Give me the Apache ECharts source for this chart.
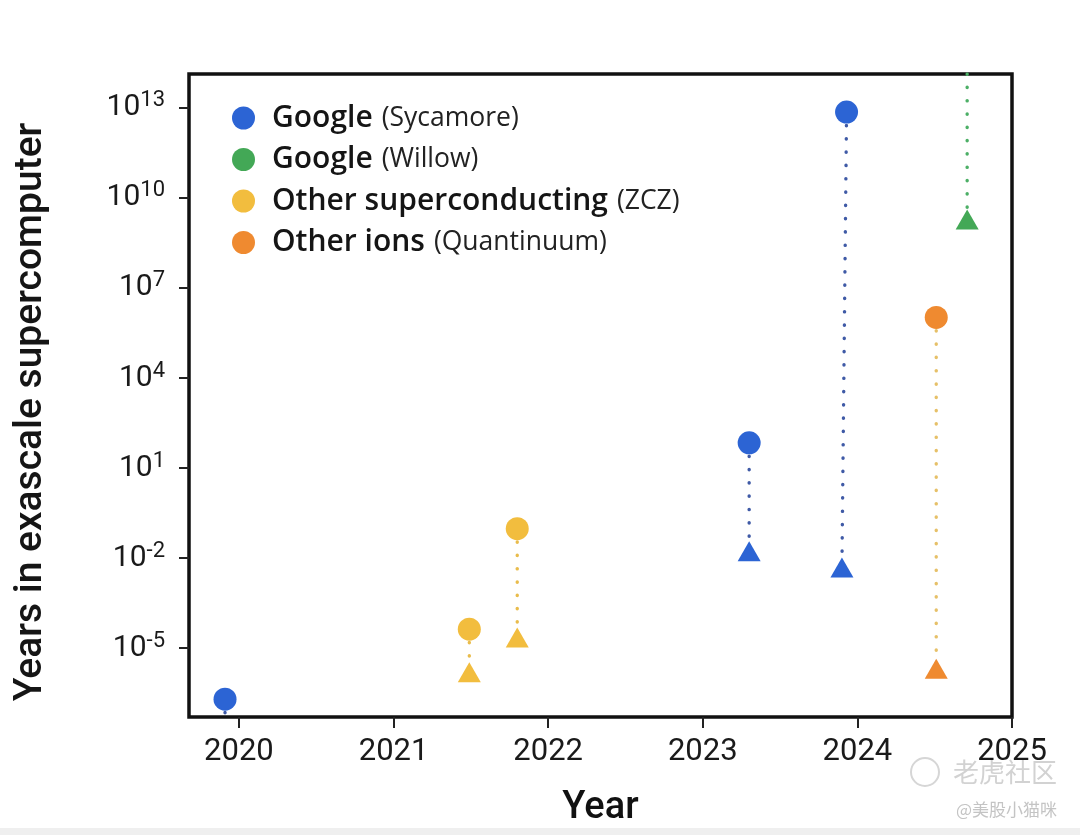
<!DOCTYPE html>
<html>
<head>
<meta charset="utf-8">
<script src="https://cdn.jsdelivr.net/npm/echarts@6/dist/echarts.min.js"></script>
<style>
html,body{margin:0;padding:0;background:#fff;}
#chart{width:1080px;height:835px;}
</style>
</head>
<body>
<div id="chart"></div>
<script>
// ---- Data (x = year, y = log10(years in exascale supercomputer)) ----
const seriesNames = ['Google (Sycamore)', 'Google (Willow)', 'Other superconducting (ZCZ)', 'Other ions (Quantinuum)'];
const seriesColors = ['#2c64d4', '#43a856', '#f2bd3e', '#ef8a30'];
const lineColors = ['#3f5aa6', '#4caf66', '#e9bc4c', '#e6c068'];

// circles (upper marker) and triangles (lower marker); null = outside the plotted range
const sycCircleYear = [2019.91, 2023.30, 2023.93];
const sycCircleLog  = [-6.70, 1.84, 12.86];
const sycTriYear    = [2019.91, 2023.30, 2023.90];
const sycTriLog     = [null, -1.77, -2.31];

const wilCircleYear = [2024.71];
const wilCircleLog  = [null];
const wilTriYear    = [2024.71];
const wilTriLog     = [9.28];

const zczCircleYear = [2021.49, 2021.80];
const zczCircleLog  = [-4.37, -1.02];
const zczTriYear    = [2021.49, 2021.80];
const zczTriLog     = [-5.80, -4.65];

const quaCircleYear = [2024.51];
const quaCircleLog  = [6.02];
const quaTriYear    = [2024.51];
const quaTriLog     = [-5.69];

const xTicks = [2020, 2021, 2022, 2023, 2024, 2025];
const yTickExponents = [-5, -2, 1, 4, 7, 10, 13];

const X_MIN = 2019.677, X_MAX = 2025.0;
const Y_MIN = -7.295, Y_MAX = 14.13;

const groups = [
  [sycCircleYear, sycCircleLog, sycTriYear, sycTriLog],
  [wilCircleYear, wilCircleLog, wilTriYear, wilTriLog],
  [zczCircleYear, zczCircleLog, zczTriYear, zczTriLog],
  [quaCircleYear, quaCircleLog, quaTriYear, quaTriLog]
];

const FONT = 'Roboto, "Open Sans", sans-serif';
const LFONT = '"Open Sans", Roboto, sans-serif';
const series = [];

groups.forEach(function (g, gi) {
  const cy = g[0], cl = g[1], ty = g[2], tl = g[3];
  // dotted connectors
  for (let i = 0; i < cy.length; i++) {
    const top = cl[i] == null ? [ty[i], Y_MAX] : [cy[i], cl[i]];
    const bot = tl[i] == null ? [cy[i], Y_MIN] : [ty[i], tl[i]];
    series.push({
      type: 'line',
      name: 'link-' + gi + '-' + i,
      data: [top, bot],
      symbol: 'none',
      silent: true,
      z: 1,
      lineStyle: { color: lineColors[gi], width: 3.4, type: [0.3, 13], cap: 'round' }
    });
  }
  const pts = [];
  for (let i = 0; i < cy.length; i++) {
    if (cl[i] != null) pts.push({ value: [cy[i], cl[i]], symbol: 'circle', symbolSize: 23 });
    if (tl[i] != null) pts.push({ value: [ty[i], tl[i]], symbol: 'triangle', symbolSize: [23, 20] });
  }
  series.push({
    type: 'scatter',
    name: seriesNames[gi],
    data: pts,
    z: 3,
    itemStyle: { color: seriesColors[gi], opacity: 1 }
  });
});

const chart = echarts.init(document.getElementById('chart'), null, { renderer: 'canvas' });
chart.setOption({
  animation: false,
  backgroundColor: '#ffffff',
  grid: {
    left: 189, right: 68, top: 74, bottom: 118,
    show: true, borderColor: '#111111', borderWidth: 3.5, backgroundColor: 'transparent'
  },
  legend: {
    data: seriesNames,
    orient: 'vertical',
    left: 232, top: 103,
    padding: 0,
    icon: 'circle',
    itemWidth: 23, itemHeight: 23,
    itemGap: 11.5,
    selectedMode: false,
    formatter: function (name) {
      const k = name.indexOf(' (');
      return '{a|' + name.slice(0, k) + '}{b|' + name.slice(k + 1) + '}';
    },
    textStyle: {
      rich: {
        a: { fontFamily: LFONT, fontSize: 30, fontWeight: 600, color: '#151515', lineHeight: 29, padding: [0, 0, 0, 12] },
        b: { fontFamily: LFONT, fontSize: 26.5, fontWeight: 400, color: '#222222', lineHeight: 29, padding: [0, 0, 0, 9] }
      }
    }
  },
  xAxis: {
    type: 'value',
    min: X_MIN, max: X_MAX,
    name: 'Year',
    nameLocation: 'middle',
    nameGap: 72,
    nameTextStyle: { fontFamily: FONT, fontSize: 38, fontWeight: 500, color: '#111' },
    axisLine: { show: false, onZero: false },
    splitLine: { show: false },
    axisTick: { show: true, customValues: xTicks, length: 11, lineStyle: { color: '#222', width: 2 } },
    axisLabel: {
      customValues: xTicks,
      margin: 20,
      fontFamily: FONT, fontSize: 31, color: '#1a1a1a',
      formatter: function (v) { return String(v); }
    }
  },
  yAxis: {
    type: 'value',
    min: Y_MIN, max: Y_MAX,
    axisLine: { show: false, onZero: false },
    splitLine: { show: false },
    axisTick: { show: true, customValues: yTickExponents, length: 10, lineStyle: { color: '#222', width: 2 } },
    axisLabel: {
      customValues: yTickExponents,
      margin: 24,
      formatter: function (v) { return '{b|10}{s|' + v + '}'; },
      rich: {
        b: { fontFamily: FONT, fontSize: 30, color: '#1a1a1a', lineHeight: 36, verticalAlign: 'middle' },
        s: { fontFamily: FONT, fontSize: 22, color: '#1a1a1a', lineHeight: 20, verticalAlign: 'top' }
      }
    }
  },
  graphic: [
    {
      type: 'text', x: 31, y: 412, rotation: Math.PI / 2,
      style: {
        text: 'Years in exascale supercomputer',
        fontFamily: FONT, fontSize: 39, fontWeight: 500, fill: '#151515',
        align: 'center', verticalAlign: 'middle'
      }
    },
    { type: 'rect', shape: { x: 0, y: 828, width: 1080, height: 7 }, style: { fill: '#efefef' }, silent: true },
    { type: 'circle', shape: { cx: 925, cy: 772, r: 14 }, style: { fill: 'none', stroke: '#d6d6d6', lineWidth: 2 }, silent: true },
    {
      type: 'text', x: 1057, y: 772,
      style: { text: '老虎社区', fontFamily: '"Noto Sans CJK SC", sans-serif', fontSize: 26, fill: '#d2d2d2', align: 'right', verticalAlign: 'middle' },
      silent: true
    },
    {
      type: 'text', x: 1057, y: 810,
      style: { text: '@美股小猫咪', fontFamily: '"Noto Sans CJK SC", sans-serif', fontSize: 17, fill: '#c4c4c4', align: 'right', verticalAlign: 'middle' },
      silent: true
    }
  ],
  series: series
});
</script>
</body>
</html>
